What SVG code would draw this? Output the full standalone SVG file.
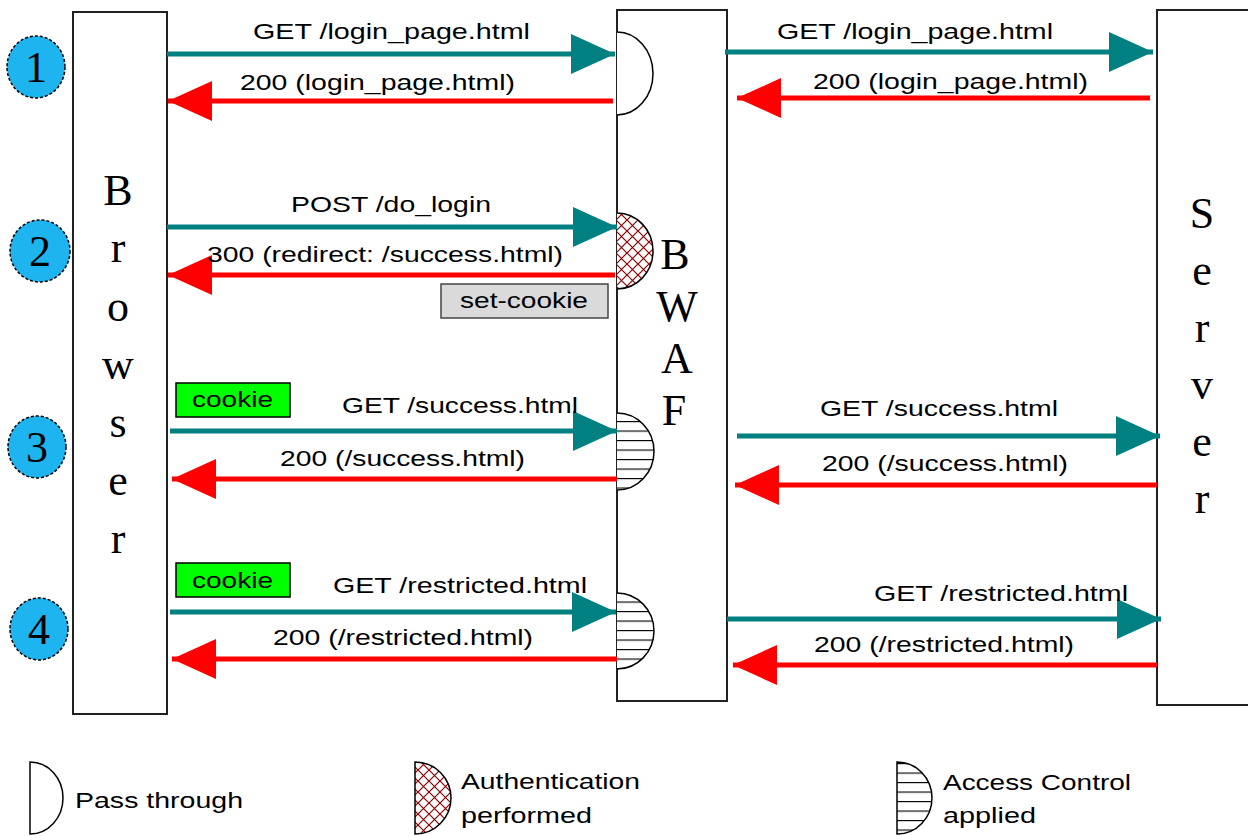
<svg xmlns="http://www.w3.org/2000/svg" width="1248" height="836" viewBox="0 0 1248 836">
<style>
.box{fill:#fff;stroke:#222;stroke-width:2}
.num{fill:#1db4ef;stroke:#000;stroke-width:1.5;stroke-dasharray:3 2}
.serif{font-family:"Liberation Serif","Times New Roman",serif;font-size:44px;fill:#000;text-anchor:middle}
.lbl{font-family:"Liberation Sans",Arial,sans-serif;font-size:22px;fill:#000}
.req{stroke:#008080;stroke-width:5;fill:none;marker-end:url(#ahT)}
.rsp{stroke:#ff0000;stroke-width:5;fill:none;marker-end:url(#ahR)}
.half{stroke:#000;stroke-width:1.5}
.pass{fill:#fff}
.auth{fill:url(#xh)}
.acc{fill:url(#hl)}
.cookie{fill:#00ff00;stroke:#000;stroke-width:1.5}
.setc{fill:#dadada;stroke:#444;stroke-width:1.5}
</style>
<defs>
<marker id="ahT" viewBox="0 0 44 40" refX="44" refY="20" markerWidth="44" markerHeight="40" markerUnits="userSpaceOnUse" orient="auto">
<path d="M0,0 L44,20 L0,40 Z" fill="#008080"/>
</marker>
<marker id="ahR" viewBox="0 0 44 40" refX="44" refY="20" markerWidth="44" markerHeight="40" markerUnits="userSpaceOnUse" orient="auto">
<path d="M0,0 L44,20 L0,40 Z" fill="#ff0000"/>
</marker>
<pattern id="xh" patternUnits="userSpaceOnUse" width="11" height="11">
<rect width="11" height="11" fill="#fff"/>
<path d="M0,0 L11,11 M11,0 L0,11" stroke="#8b0000" stroke-width="1.2"/>
</pattern>
<pattern id="hl" patternUnits="userSpaceOnUse" width="10" height="9.5" y="3">
<rect width="10" height="9.5" fill="#fff"/>
<path d="M0,0.5 H10" stroke="#000" stroke-width="1.3"/>
</pattern>
</defs>
<rect width="1248" height="836" fill="#fff"/>

<g id="browser">
<rect class="box" x="73" y="12" width="94" height="702"/>
<text class="serif" x="118" y="205">B</text>
<text class="serif" x="118" y="262">r</text>
<text class="serif" x="118" y="321">o</text>
<text class="serif" x="118" y="379">w</text>
<text class="serif" x="118" y="437">s</text>
<text class="serif" x="118" y="495">e</text>
<text class="serif" x="118" y="553">r</text>
</g>

<g id="waf">
<rect class="box" x="617" y="10" width="110" height="691"/>
<text class="serif" x="675" y="269">B</text>
<text class="serif" x="677" y="321">W</text>
<text class="serif" x="677" y="373">A</text>
<text class="serif" x="674" y="425">F</text>
<path class="half pass" d="M617,32 A36,41.5 0 0 1 617,115"/>
<path class="half auth" d="M617,213 A36,38 0 0 1 617,289"/>
<path class="half acc" d="M617,413 A37,38.5 0 0 1 617,490"/>
<path class="half acc" d="M617,593 A37,38 0 0 1 617,669"/>
</g>

<g id="server">
<rect class="box" x="1157" y="10" width="110" height="695"/>
<text class="serif" x="1202" y="228">S</text>
<text class="serif" x="1202" y="285">e</text>
<text class="serif" x="1202" y="342">r</text>
<text class="serif" x="1202" y="399">v</text>
<text class="serif" x="1202" y="456">e</text>
<text class="serif" x="1202" y="513">r</text>
</g>

<g id="step1"><ellipse class="num" cx="36" cy="67" rx="29" ry="31"/><text class="serif" x="36" y="82">1</text></g>
<g id="step2"><ellipse class="num" cx="40" cy="251" rx="30" ry="31"/><text class="serif" x="40" y="266">2</text></g>
<g id="step3"><ellipse class="num" cx="37" cy="447" rx="29" ry="31"/><text class="serif" x="37" y="462">3</text></g>
<g id="step4"><ellipse class="num" cx="39" cy="629" rx="29" ry="31"/><text class="serif" x="39" y="644">4</text></g>

<g id="cookie3"><rect class="cookie" x="176" y="383" width="114" height="34"/><text class="lbl" x="192" y="407" textLength="81" lengthAdjust="spacingAndGlyphs">cookie</text></g>
<g id="cookie4"><rect class="cookie" x="176" y="563" width="114" height="34"/><text class="lbl" x="192" y="588" textLength="81" lengthAdjust="spacingAndGlyphs">cookie</text></g>
<g id="setcookie"><rect class="setc" x="441" y="284" width="167" height="34"/><text class="lbl" x="460" y="308" textLength="128" lengthAdjust="spacingAndGlyphs">set-cookie</text></g>

<g id="connectors">
<line class="req" x1="167" y1="54" x2="615" y2="54"/>
<line class="rsp" x1="613" y1="101" x2="168" y2="101"/>
<line class="req" x1="725" y1="52" x2="1153" y2="52"/>
<line class="rsp" x1="1150" y1="98" x2="737" y2="98"/>
<line class="req" x1="167" y1="227" x2="617" y2="227"/>
<line class="rsp" x1="615" y1="275" x2="168" y2="275"/>
<line class="req" x1="170" y1="431" x2="617" y2="431"/>
<line class="rsp" x1="617" y1="479" x2="172" y2="479"/>
<line class="req" x1="737" y1="436" x2="1160" y2="436"/>
<line class="rsp" x1="1157" y1="485" x2="735" y2="485"/>
<line class="req" x1="170" y1="612" x2="616" y2="612"/>
<line class="rsp" x1="617" y1="659" x2="172" y2="659"/>
<line class="req" x1="727" y1="619" x2="1161" y2="619"/>
<line class="rsp" x1="1157" y1="665" x2="733" y2="665"/>

<text class="lbl" x="253" y="39" textLength="277" lengthAdjust="spacingAndGlyphs">GET /login_page.html</text>
<text class="lbl" x="240" y="90" textLength="275" lengthAdjust="spacingAndGlyphs">200 (login_page.html)</text>
<text class="lbl" x="777" y="39" textLength="276" lengthAdjust="spacingAndGlyphs">GET /login_page.html</text>
<text class="lbl" x="813" y="89" textLength="275" lengthAdjust="spacingAndGlyphs">200 (login_page.html)</text>
<text class="lbl" x="291" y="212" textLength="200" lengthAdjust="spacingAndGlyphs">POST /do_login</text>
<text class="lbl" x="207" y="262" textLength="356" lengthAdjust="spacingAndGlyphs">300 (redirect: /success.html)</text>
<text class="lbl" x="342" y="413" textLength="236" lengthAdjust="spacingAndGlyphs">GET /success.html</text>
<text class="lbl" x="280" y="466" textLength="245" lengthAdjust="spacingAndGlyphs">200 (/success.html)</text>
<text class="lbl" x="820" y="416" textLength="238" lengthAdjust="spacingAndGlyphs">GET /success.html</text>
<text class="lbl" x="822" y="471" textLength="246" lengthAdjust="spacingAndGlyphs">200 (/success.html)</text>
<text class="lbl" x="333" y="593" textLength="254" lengthAdjust="spacingAndGlyphs">GET /restricted.html</text>
<text class="lbl" x="273" y="645" textLength="260" lengthAdjust="spacingAndGlyphs">200 (/restricted.html)</text>
<text class="lbl" x="874" y="601" textLength="254" lengthAdjust="spacingAndGlyphs">GET /restricted.html</text>
<text class="lbl" x="814" y="652" textLength="260" lengthAdjust="spacingAndGlyphs">200 (/restricted.html)</text>
</g>

<g id="legend-pass">
<path class="half pass" d="M30,762 A33,36 0 0 1 30,834 Z"/>
<text class="lbl" x="75" y="808" textLength="168" lengthAdjust="spacingAndGlyphs">Pass through</text>
</g>
<g id="legend-auth">
<path class="half auth" d="M415,762 A36,36 0 0 1 415,834 Z"/>
<text class="lbl" x="461" y="789" textLength="179" lengthAdjust="spacingAndGlyphs">Authentication</text>
<text class="lbl" x="461" y="823" textLength="131" lengthAdjust="spacingAndGlyphs">performed</text>
</g>
<g id="legend-acc">
<path class="half acc" d="M897,762 A35,36 0 0 1 897,834 Z"/>
<text class="lbl" x="943" y="790" textLength="188" lengthAdjust="spacingAndGlyphs">Access Control</text>
<text class="lbl" x="943" y="823" textLength="93" lengthAdjust="spacingAndGlyphs">applied</text>
</g>
</svg>
